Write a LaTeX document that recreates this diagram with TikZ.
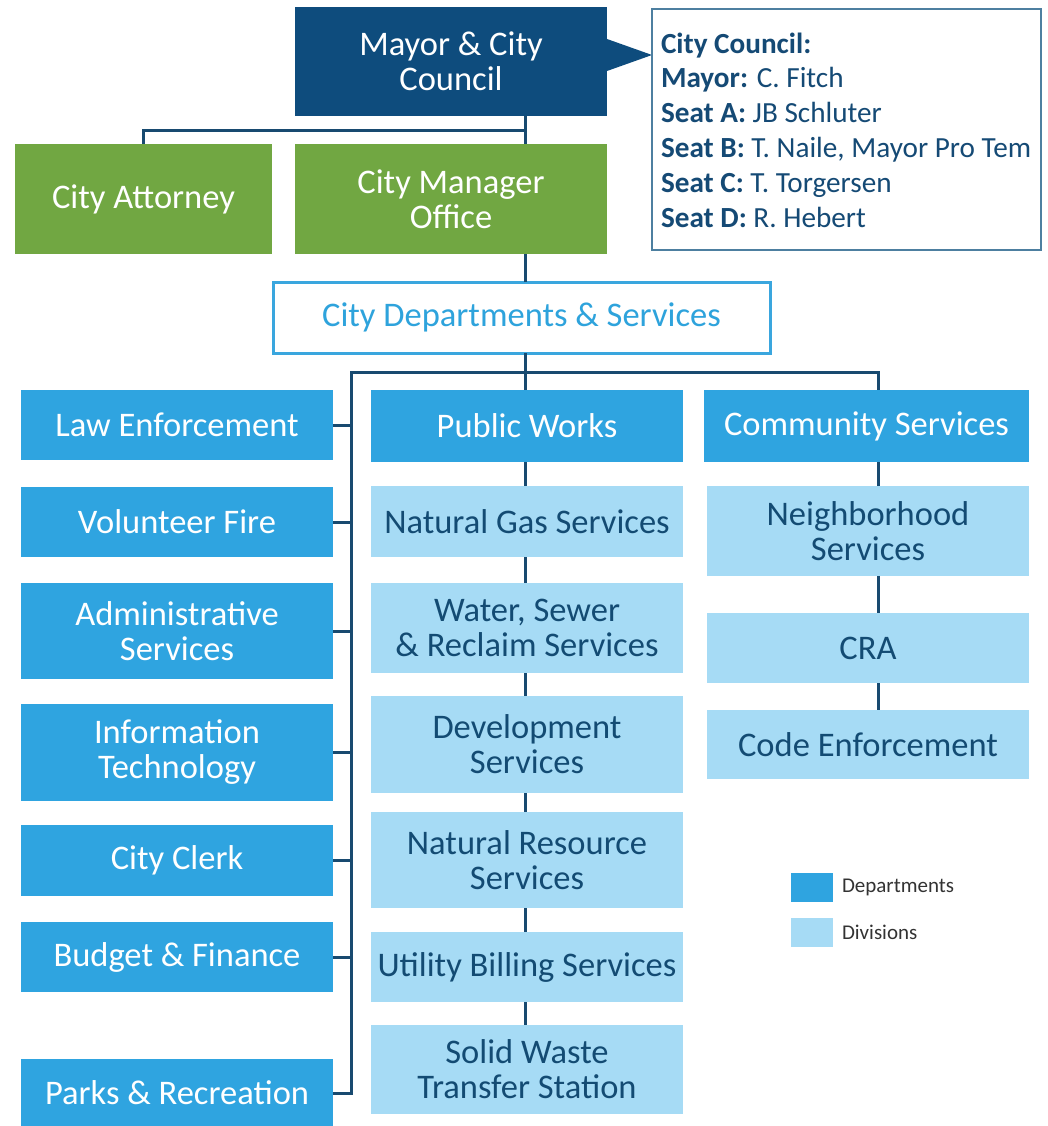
\documentclass[tikz,border=0pt]{standalone}
\usepackage{fontspec}
\setmainfont{Carlito}
\definecolor{navy}{HTML}{0E4C7D}
\definecolor{linecol}{HTML}{184A70}
\definecolor{green1}{HTML}{71A742}
\definecolor{deptblue}{HTML}{2FA4E0}
\definecolor{divblue}{HTML}{A6DBF5}
\definecolor{divtext}{HTML}{134B73}
\definecolor{deptborder}{HTML}{3AA6DE}
\definecolor{depttext}{HTML}{2EA3DC}
\definecolor{cborder}{HTML}{4D7FA0}
\definecolor{ctext}{HTML}{154A75}
\definecolor{legtext}{HTML}{333333}
\begin{document}
\begin{tikzpicture}[x=1pt,y=-1pt,
  every node/.style={inner sep=0pt, outer sep=0pt},
  basebox/.style={rectangle, align=center, font=\fontsize{34.5}{35}\selectfont},
  deptbox/.style={basebox, fill=deptblue, text=white},
  divbox/.style={basebox, fill=divblue, text=divtext},
  grnbox/.style={basebox, fill=green1, text=white},
  sz/.style 2 args={minimum width=#1pt, minimum height=#2pt},
  conn/.style={draw=linecol, line width=3pt},
  ctxt/.style={anchor=base west, text=ctext, font=\fontsize{29.2}{30}\selectfont},
  legt/.style={anchor=west, text=legtext, font=\fontsize{21}{22}\selectfont}
]
\useasboundingbox (0,0) rectangle (1047,1126);
\fill[white] (0,0) rectangle (1047,1126);

% top level
\node[basebox, fill=navy, text=white, sz={312}{109}] (mayor) at (451,61.5) {Mayor \& City\\Council};
\fill[navy] (607,39) -- (652,55) -- (607,71) -- cycle;
\node[draw=cborder, line width=1.5pt, fill=white, sz={389}{241}] (council) at (846.5,129.5) {};
\node[ctxt] (c1) at (661,53.3) {\textbf{City Council:}};
\node[ctxt] (c2) at (661,87.5) {\textbf{Mayor:} C. Fitch};
\node[ctxt] (c3) at (661,122.5) {\textbf{Seat A:} JB Schluter};
\node[ctxt] (c4) at (661,157.5) {\textbf{Seat B:} T. Naile, Mayor Pro Tem};
\node[ctxt] (c5) at (661,192.3) {\textbf{Seat C:} T. Torgersen};
\node[ctxt] (c6) at (661,227.5) {\textbf{Seat D:} R. Hebert};

\node[grnbox, sz={257}{110}] (att) at (143.5,199) {City Attorney};
\node[grnbox, sz={312}{110}] (cmo) at (451,199) {City Manager\\Office};
\node[basebox, draw=deptborder, line width=3pt, fill=white, text=depttext, sz={497}{71}] (dept) at (521.5,317.5) {City Departments \& Services};

% left column
\node[deptbox, sz={312}{70}] (law) at (177,425) {Law Enforcement};
\node[deptbox, sz={312}{70}] (vf) at (177,522) {Volunteer Fire};
\node[deptbox, sz={312}{96}] (admin) at (177,631) {Administrative\\Services};
\node[deptbox, sz={312}{97}] (it) at (177,752.5) {Information\\Technology};
\node[deptbox, sz={312}{71}] (clerk) at (177,860.5) {City Clerk};
\node[deptbox, sz={312}{70}] (budget) at (177,957) {Budget \& Finance};
\node[deptbox, sz={312}{68}] (parks) at (177,1093) {Parks \& Recreation};

% middle column
\node[deptbox, sz={312}{72}] (pw) at (527,426) {Public Works};
\node[divbox, sz={312}{71}] (ng) at (527,521.5) {Natural Gas Services};
\node[divbox, sz={312}{90}] (wsr) at (527,628) {Water, Sewer\\\& Reclaim Services};
\node[divbox, sz={312}{97}] (dev) at (527,744.5) {Development\\Services};
\node[divbox, sz={312}{96}] (nr) at (527,860) {Natural Resource\\Services};
\node[divbox, sz={312}{70}] (ub) at (527,967) {Utility Billing Services};
\node[divbox, sz={312}{89}] (sw) at (527,1069.5) {Solid Waste\\Transfer Station};

% right column
\node[deptbox, sz={325}{72}] (comm) at (866.5,426) {Community Services};
\node[divbox, sz={322}{90}] (nbh) at (868,531) {Neighborhood\\Services};
\node[divbox, sz={322}{70}] (cra) at (868,648) {CRA};
\node[divbox, sz={322}{69}] (code) at (868,744.5) {Code Enforcement};

% legend
\node[fill=deptblue, sz={42}{29}] (lg1) at (812,887.5) {};
\node[fill=divblue, sz={42}{29}] (lg2) at (812,932.5) {};
\node[legt] (lt1) at (842,887) {Departments};
\node[legt] (lt2) at (842,932) {Divisions};

% connectors
\coordinate (tk) at (525,131);
\coordinate (hl) at (351,372);
\coordinate (hr) at (878,372);
\draw[conn] (tk |- mayor.south) -- (tk |- cmo.north);
\draw[conn] (tk) -| (att.north);
\draw[conn] (tk |- cmo.south) -- (tk |- dept.north);
\draw[conn] (tk |- dept.south) -- (tk |- hl);
\draw[conn] (parks.east) -| (hl) -- (hr) -- (hr |- comm.north);
\draw[conn] (tk |- hl) -- (tk |- pw.north);
\foreach \n in {law,vf,admin,it,clerk,budget}
  \draw[conn] (\n.east) -- (\n.east -| hl);
\draw[conn] (tk |- pw.south) -- (tk |- ng.north);
\draw[conn] (tk |- ng.south) -- (tk |- wsr.north);
\draw[conn] (tk |- wsr.south) -- (tk |- dev.north);
\draw[conn] (tk |- dev.south) -- (tk |- nr.north);
\draw[conn] (tk |- nr.south) -- (tk |- ub.north);
\draw[conn] (tk |- ub.south) -- (tk |- sw.north);
\draw[conn] (hr |- comm.south) -- (hr |- nbh.north);
\draw[conn] (hr |- nbh.south) -- (hr |- cra.north);
\draw[conn] (hr |- cra.south) -- (hr |- code.north);
\end{tikzpicture}
\end{document}
